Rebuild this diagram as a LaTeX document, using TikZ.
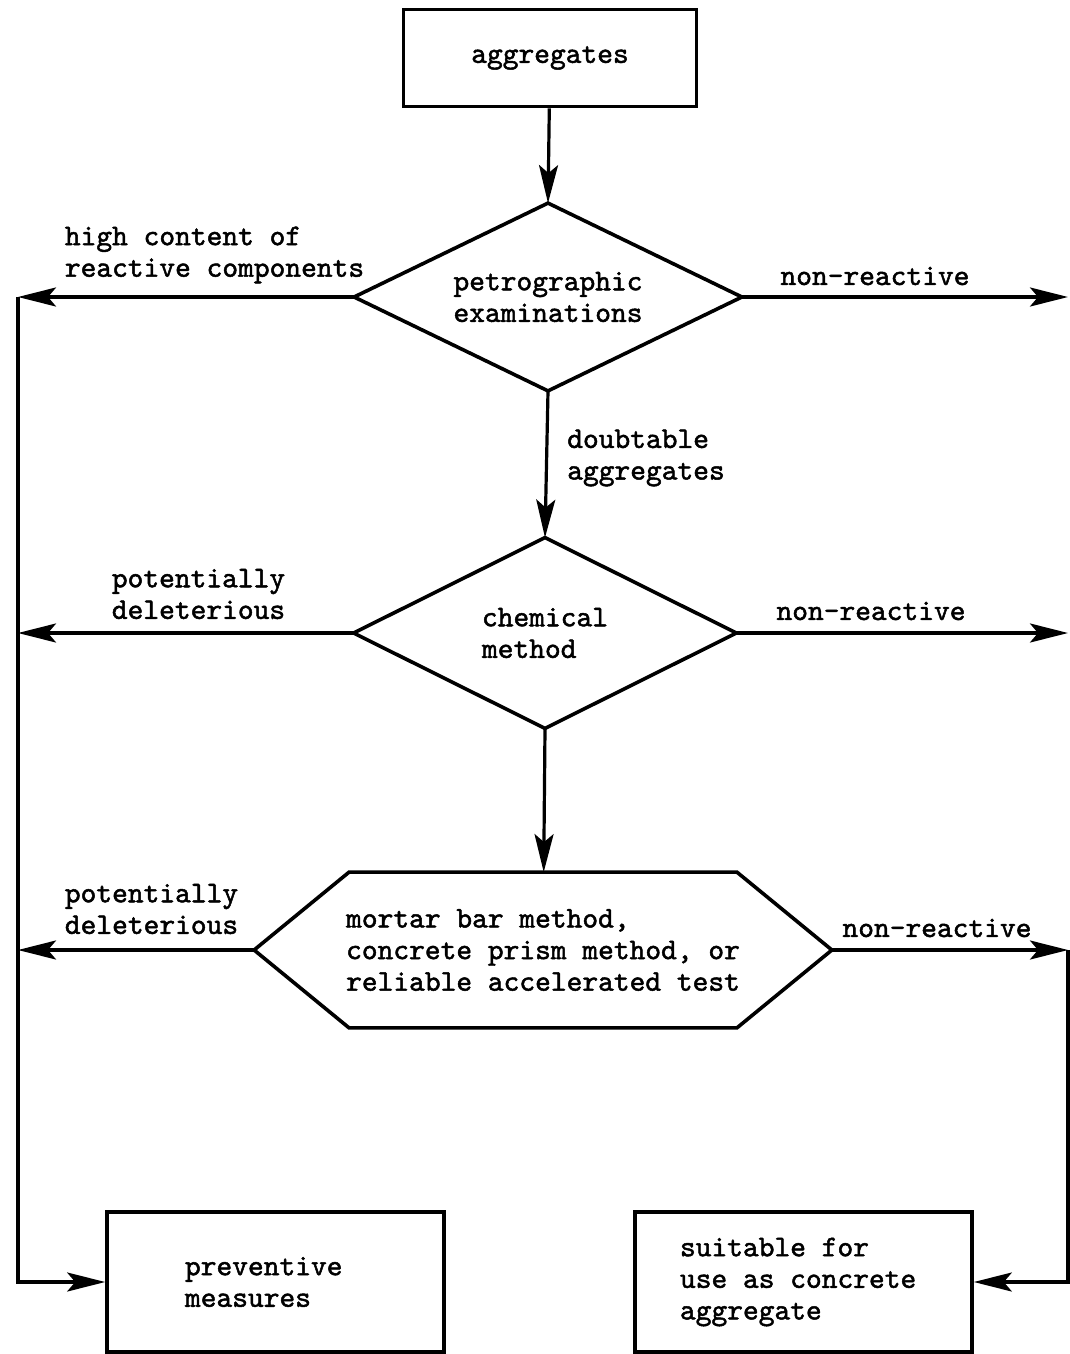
\documentclass[tikz,border=0pt]{standalone}
\usepackage{fontspec}
\usepackage{tikz}
\usetikzlibrary{arrows.meta}

\newfontfamily\flowfont{lmmono10-regular.otf}[FakeBold=1.6]

\tikzset{
  every node/.style={font=\fontsize{15}{15.8}\selectfont\flowfont},
  box/.style={draw,line width=1.8pt,minimum width=168.5pt,minimum height=70pt,align=left},
  decision/.style={minimum width=193.5pt,minimum height=93.5pt,inner sep=0pt,align=center},
  label/.style={align=left,inner sep=0pt},
  arr/.style={line width=1.6pt,-{Stealth[length=19pt,width=9.5pt,inset=4pt]}},
  outline/.style={line width=1.8pt,line join=miter}
}

\begin{document}
\begin{tikzpicture}[x=0.5pt,y=-0.5pt]
        \useasboundingbox (0,0) rectangle (1070,1354);
        % boxes and decisions
        \node[box,minimum width=146.5pt,minimum height=48.5pt] (agg) at (550,58) {aggregates};
        \node[decision] (pet) at (548,297) {petrographic\\examinations};
        \draw[outline] (pet.north) -- (pet.east) -- (pet.south) -- (pet.west) -- cycle;
        \node[decision,align=left,minimum width=191pt,minimum height=95pt] (chem) at (545,633) {chemical\\method};
        \draw[outline] (chem.north) -- (chem.east) -- (chem.south) -- (chem.west) -- cycle;
        \node[minimum width=288.5pt,minimum height=77.5pt,align=left,inner sep=0pt] (test) at (543,950) {mortar bar method,\\concrete prism method, or\\reliable accelerated test};
        \draw[outline] (test.west) -- ([xshift=47.5pt]test.north west) -- ([xshift=-47.5pt]test.north east)
              -- (test.east) -- ([xshift=-47.5pt]test.south east) -- ([xshift=47.5pt]test.south west) -- cycle;
        \node[box,inner xsep=39pt,text width=90.5pt,align=flush left] (prev) at (275.5,1282) {preventive\\measures};
        \node[box,inner xsep=22.5pt,text width=123.5pt,align=flush left] (suit) at (803.5,1282) {suitable for\\use as concrete\\aggregate};

        % the two collecting lines
        \coordinate (lbus) at (18,297);
        \coordinate (rbus) at (1068,950);

        % main line
        \draw[arr] (agg) -- (pet.north);
        \draw[arr] (pet.south) -- (chem.north);
        \draw[arr] (chem.south) -- (test);

        % to the left
        \draw[arr] (pet.west) -- (pet.west -| lbus);
        \draw[arr] (chem.west) -- (chem.west -| lbus);
        \draw[arr] (test.west) -- (test.west -| lbus);
        \draw[arr,line join=miter] (lbus) |- (prev.west);

        % to the right
        \draw[arr] (pet.east) -- (pet.east -| rbus);
        \draw[arr] (chem.east) -- (chem.east -| rbus);
        \draw[arr] (test.east) -- (rbus);
        \draw[arr,line join=miter] (rbus) |- (suit.east);

        % branch labels
        \node[label] (hc) at (214.5,255) {high content of\\reactive components};
        \node[label] (nr1) at (875,276) {non-reactive};
        \node[label] (da) at (646,458) {doubtable\\aggregates};
        \node[label] (pd1) at (198.5,594) {potentially\\deleterious};
        \node[label] (nr2) at (871,611) {non-reactive};
        \node[label] (pd2) at (151.5,909) {potentially\\deleterious};
        \node[label] (nr3) at (937,928) {non-reactive};
    \end{tikzpicture}
\end{document}
